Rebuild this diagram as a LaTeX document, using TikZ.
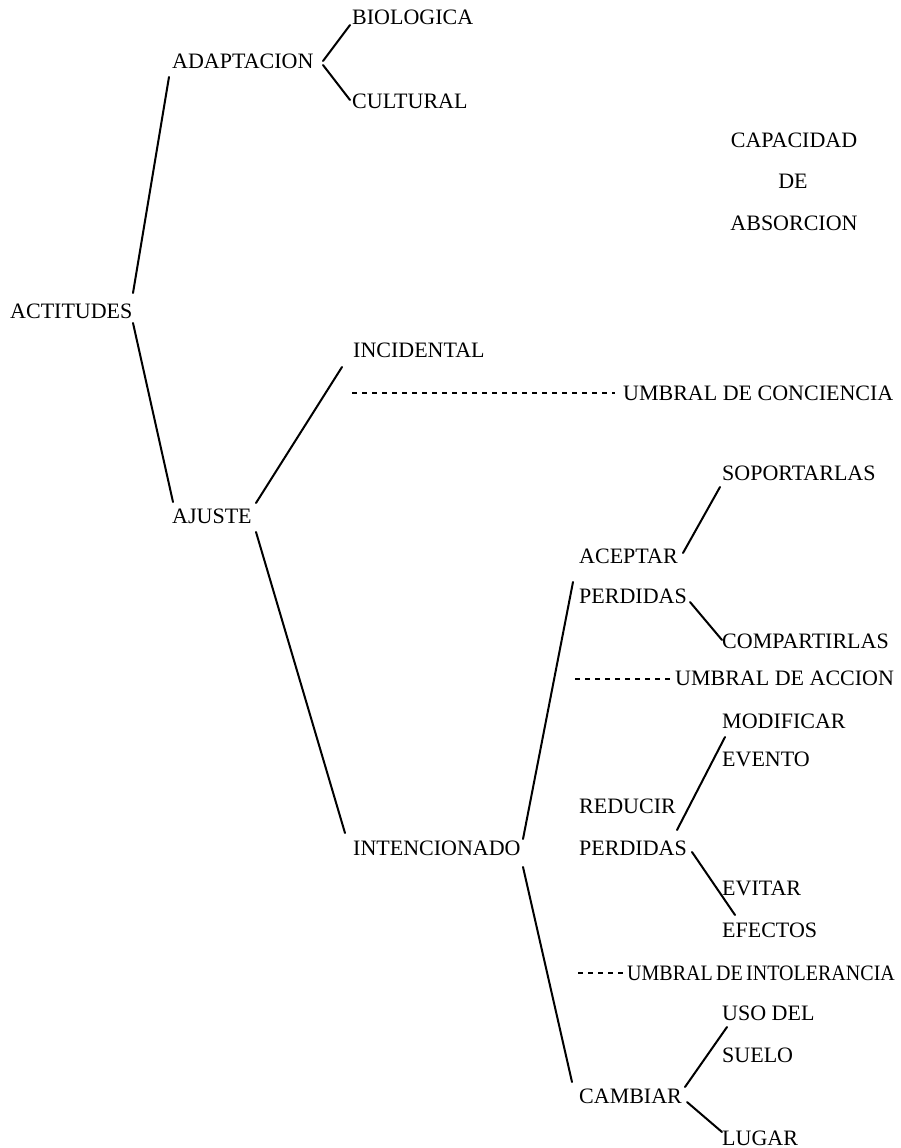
\documentclass[tikz,border=0pt]{standalone}
\usepackage{fontspec}
\setmainfont{Liberation Serif}
\usepackage{graphicx}
\begin{document}
\begin{tikzpicture}[x=1pt,y=-1pt,
  lbl/.style={inner sep=0pt, anchor=base west, font=\fontsize{22}{26}\selectfont},
  clbl/.style={inner sep=0pt, anchor=base, font=\fontsize{22}{26}\selectfont},
  conn/.style={line width=2pt, line cap=round},
  thresh/.style={line width=1.3pt, dash pattern=on 4.5pt off 5.5pt}]
\useasboundingbox (0,0) rectangle (901,1148);
% nodes
\node[lbl] (bio) at (352,25) {BIOLOGICA};
\node[lbl] (adapt) at (172,68) {ADAPTACION};
\node[lbl] (cult) at (352,108) {CULTURAL};
\node[clbl] (cap1) at (794,147) {CAPACIDAD};
\node[clbl] (cap2) at (793,188) {DE};
\node[clbl] (cap3) at (794,230) {ABSORCION};
\node[lbl] (act) at (10,318) {ACTITUDES};
\node[lbl] (incid) at (353,357) {INCIDENTAL};
\node[lbl] (umb1) at (623,400) {UMBRAL DE CONCIENCIA};
\node[lbl] (sopor) at (722,480) {SOPORTARLAS};
\node[lbl] (ajuste) at (172,523) {AJUSTE};
\node[lbl] (acep) at (579,563) {ACEPTAR};
\node[lbl] (perd1) at (579,603) {PERDIDAS};
\node[lbl] (compart) at (722,648) {COMPARTIRLAS};
\node[lbl] (umb2) at (675,685) {UMBRAL DE ACCION};
\node[lbl] (modif) at (722,728) {MODIFICAR};
\node[lbl] (evento) at (722,766) {EVENTO};
\node[lbl] (reduc) at (579,813) {REDUCIR};
\node[lbl] (inten) at (353,855) {INTENCIONADO};
\node[lbl] (perd2) at (579,855) {PERDIDAS};
\node[lbl] (evitar) at (722,895) {EVITAR};
\node[lbl] (efectos) at (722,937) {EFECTOS};
\node[lbl] (umb3) at (627,980) {\scalebox{0.91}[1]{UMBRAL\,DE\,INTOLERANCIA}};
\node[lbl] (uso) at (722,1020) {USO DEL};
\node[lbl] (suelo) at (722,1062) {SUELO};
\node[lbl] (camb) at (579,1103) {CAMBIAR};
\node[lbl] (lugar) at (722,1145) {LUGAR};
% threshold start points
\coordinate (d1) at (352,393);
\coordinate (d2) at (575,679);
\coordinate (d3) at (578,973);
% connectors
\draw[conn] ([shift={(123,-25)}]act.base west) -- ([shift={(-3,9)}]adapt.base west);
\draw[conn] ([shift={(123,5)}]act.base west) -- ([shift={(1,-21)}]ajuste.base west);
\draw[conn] ([shift={(151,-7)}]adapt.base west) -- ([shift={(-2,0)}]bio.base west);
\draw[conn] ([shift={(151,-3)}]adapt.base west) -- ([shift={(-2,-8)}]cult.base west);
\draw[conn] ([shift={(84,-20)}]ajuste.base west) -- ([shift={(-11,10)}]incid.base west);
\draw[conn] ([shift={(84,9)}]ajuste.base west) -- ([shift={(-8,-22)}]inten.base west);
\draw[conn] ([shift={(170,-16)}]inten.base west) -- ([shift={(-6,-21)}]perd1.base west);
\draw[conn] ([shift={(104,-10)}]acep.base west) -- ([shift={(-2,7)}]sopor.base west);
\draw[conn] ([shift={(111,-1)}]perd1.base west) -- ([shift={(0,-8)}]compart.base west);
\draw[conn] ([shift={(170,12)}]inten.base west) -- ([shift={(-7,-21)}]camb.base west);
\draw[conn] ([shift={(98,17)}]reduc.base west) -- ([shift={(3,9)}]modif.base west);
\draw[conn] ([shift={(113,-3)}]perd2.base west) -- ([shift={(13,-22)}]efectos.base west);
\draw[conn] ([shift={(106,-16)}]camb.base west) -- ([shift={(5,7)}]uso.base west);
\draw[conn] ([shift={(108,-1)}]camb.base west) -- ([shift={(0,-13)}]lugar.base west);
% thresholds
\draw[thresh] (d1) -- ([shift={(-8,-7)}]umb1.base west);
\draw[thresh] (d2) -- ([shift={(-3,-6)}]umb2.base west);
\draw[thresh] (d3) -- ([shift={(-2,-7)}]umb3.base west);
\end{tikzpicture}
\end{document}
